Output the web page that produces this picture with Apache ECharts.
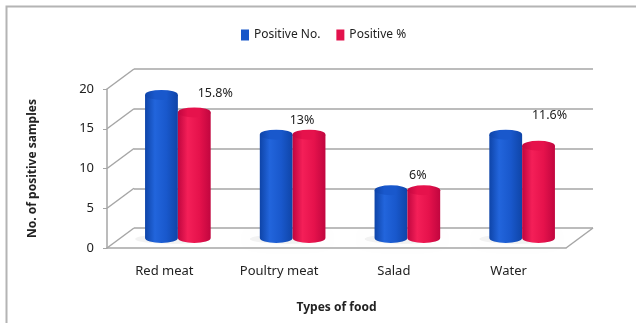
<!DOCTYPE html>
<html>
<head>
<meta charset="utf-8">
<script src="https://cdn.jsdelivr.net/npm/echarts@6/dist/echarts.min.js"></script>
<style>
  html, body { margin: 0; padding: 0; background: #fff; }
  #chart { width: 636px; height: 323px; }
</style>
</head>
<body>
<div id="chart"></div>
<script>
const categories = ['Red meat', 'Poultry meat', 'Salad', 'Water'];
const positiveNo = [18, 13, 6, 13];
const positivePct = [15.8, 13, 6, 11.6];
const pctLabels = ['15.8%', '13%', '6%', '11.6%'];
const yTicks = [0, 5, 10, 15, 20];

// fake 3d depth (px) between front axis and back wall
const DX = 27, DY = -20;
// excel put the % labels in odd places, nudge each one
const labelNudge = [[21, -19], [-7, -14], [-6, -15], [11, -30]];

const GRID_LINE = '#a6a6a6';
const FONT = '"Noto Sans", "Open Sans", sans-serif';

const blueBody = ['#0e44a8', '#2265dc', '#1958cc', '#0f45a8'];
const redBody = ['#c0063f', '#f41f58', '#e6124c', '#c1063f'];

function grad(c) {
  return new echarts.graphic.LinearGradient(0, 0, 1, 0, [
    { offset: 0, color: c[0] },
    { offset: 0.3, color: c[1] },
    { offset: 0.65, color: c[2] },
    { offset: 1, color: c[3] }
  ]);
}

function cylinder(side, colors, withLabels) {
  return function (params, api) {
    const i = api.value(0), v = api.value(1);
    const band = api.size([1, 0])[0];
    const rx = band * 0.143, ry = 5;
    const top = api.coord([i, v]), base = api.coord([i, 0]);
    const cx = top[0] + DX / 2 + side * rx;
    const x0 = cx - rx, x1 = cx + rx;
    const yt = top[1] + DY / 2, yb = base[1] + DY / 2;
    const body = `M${x0} ${yt} L${x0} ${yb} A${rx} ${ry} 0 0 0 ${x1} ${yb} L${x1} ${yt} Z`;
    const cap = `M${x0} ${yt} A${rx} ${ry} 0 1 0 ${x1} ${yt} A${rx} ${ry} 0 1 0 ${x0} ${yt} Z`;
    const kids = [];
    if (side < 0) {
      const sx0 = x0 - 10, sx1 = x1 + 2 * rx;
      const srx = (sx1 - sx0) / 2;
      kids.push({
        type: 'path',
        shape: { pathData: `M${sx0} ${yb + 1} A${srx} ${ry} 0 1 0 ${sx1} ${yb + 1} A${srx} ${ry} 0 1 0 ${sx0} ${yb + 1} Z` },
        style: { fill: 'rgba(0,0,0,0.05)', shadowBlur: 8, shadowColor: 'rgba(0,0,0,0.18)' }
      });
    }
    kids.push({ type: 'path', shape: { pathData: body }, style: { fill: grad(colors) } });
    kids.push({
      type: 'path', shape: { pathData: cap },
      style: { fill: grad([colors[0], colors[2], colors[2], colors[0]]) }
    });
    if (withLabels) {
      const n = labelNudge[params.dataIndex];
      kids.push({
        type: 'text',
        style: {
          text: pctLabels[params.dataIndex], x: cx + n[0], y: yt + n[1],
          align: 'center', verticalAlign: 'middle', fill: '#222', font: '12.5px ' + FONT
        }
      });
    }
    return { type: 'group', children: kids };
  };
}

const chart = echarts.init(document.getElementById('chart'));
chart.setOption({
  animation: false,
  textStyle: { fontFamily: FONT },
  legend: {
    data: ['Positive No.', 'Positive %'],
    left: 236, top: 24,
    icon: 'rect', itemWidth: 8, itemHeight: 11, itemGap: 16,
    textStyle: { fontSize: 12, color: '#222' }
  },
  graphic: [{
    type: 'polyline',
    shape: { points: [[6.5, 323], [6.5, 6.5], [636, 6.5]] },
    style: { stroke: '#b4b4b4', lineWidth: 2, fill: null }
  }],
  grid: [
    { left: 107, top: 89, width: 459, height: 159 },
    { left: 107 + DX, top: 89 + DY, width: 459, height: 159 }
  ],
  xAxis: [
    {
      type: 'category', data: categories, gridIndex: 0,
      name: 'Types of food', nameLocation: 'middle', nameGap: 54,
      nameTextStyle: { fontWeight: 'bold', fontSize: 12, color: '#222' },
      axisLine: { lineStyle: { color: GRID_LINE, width: 1.5 } },
      axisTick: { show: false },
      axisLabel: { margin: 17, fontSize: 13, color: '#222' }
    },
    { type: 'category', data: categories, gridIndex: 1, show: false }
  ],
  yAxis: [
    {
      type: 'value', gridIndex: 0, min: 0, max: 20, interval: 5,
      name: 'No. of positive samples', nameLocation: 'middle', nameGap: 68,
      nameTextStyle: { fontWeight: 'bold', fontSize: 12, color: '#222' },
      axisLine: { show: true, lineStyle: { color: GRID_LINE, width: 1.5 } },
      axisTick: { show: true, length: 4, lineStyle: { color: GRID_LINE } },
      axisLabel: { margin: 13, fontSize: 13, color: '#222' },
      splitLine: { show: false }
    },
    {
      type: 'value', gridIndex: 1, min: 0, max: 20, interval: 5,
      axisLine: { show: false }, axisTick: { show: false }, axisLabel: { show: false },
      splitLine: { show: true, lineStyle: { color: GRID_LINE, width: 1.5 } }
    }
  ],
  series: [
    {
      // left wall diagonals + right floor edge
      type: 'custom', xAxisIndex: 0, yAxisIndex: 0, silent: true,
      data: yTicks.map(t => [0, t]),
      renderItem: function (params, api) {
        const cs = params.coordSys;
        const y = api.coord([0, api.value(1)])[1];
        const kids = [{
          type: 'line', shape: { x1: cs.x, y1: y, x2: cs.x + DX, y2: y + DY },
          style: { stroke: GRID_LINE, lineWidth: 1.5 }
        }];
        if (api.value(1) === 0) {
          kids.push({
            type: 'line', shape: { x1: cs.x + cs.width, y1: y, x2: cs.x + cs.width + DX, y2: y + DY },
            style: { stroke: GRID_LINE, lineWidth: 1.5 }
          });
        }
        return { type: 'group', children: kids };
      }
    },
    {
      name: 'Positive No.', type: 'custom', xAxisIndex: 0, yAxisIndex: 0,
      itemStyle: { color: '#1656c9' },
      data: positiveNo.map((v, i) => [i, v]),
      renderItem: cylinder(-1, blueBody, false)
    },
    {
      name: 'Positive %', type: 'custom', xAxisIndex: 0, yAxisIndex: 0,
      itemStyle: { color: '#e3124c' },
      data: positivePct.map((v, i) => [i, v]),
      renderItem: cylinder(1, redBody, true)
    }
  ]
});
</script>
</body>
</html>
